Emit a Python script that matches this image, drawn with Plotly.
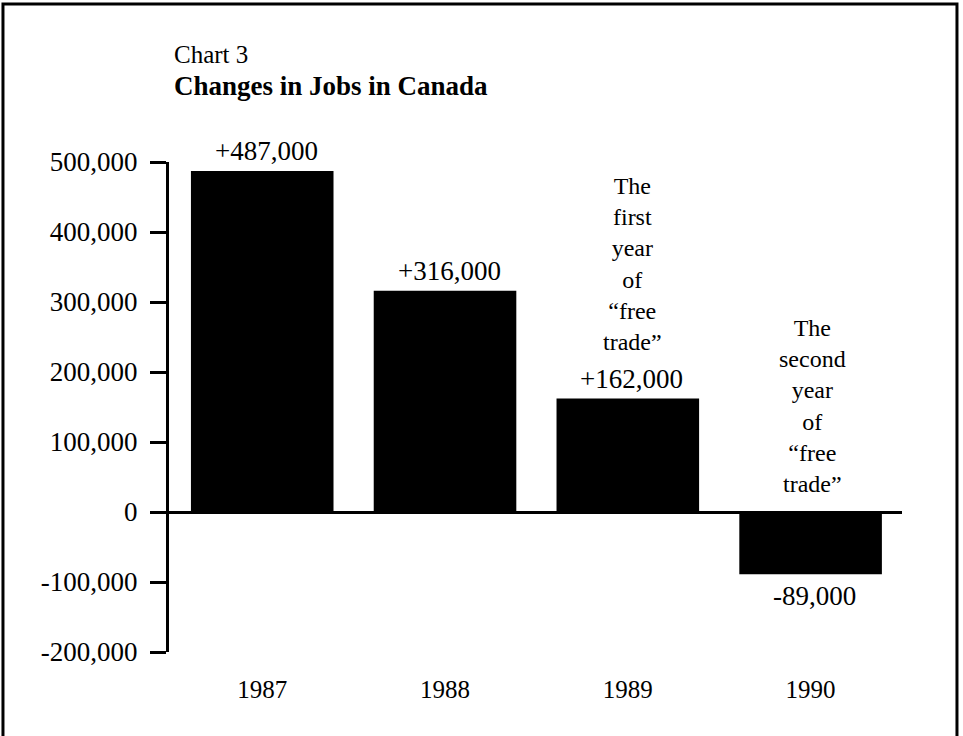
import plotly.graph_objects as go

years = ["1987", "1988", "1989", "1990"]
job_changes = [487000, 316000, 162000, -89000]
value_labels = ["+487,000", "+316,000", "+162,000", "-89,000"]
y_tick_vals = [-200000, -100000, 0, 100000, 200000, 300000, 400000, 500000]
y_tick_text = ["-200,000", "-100,000", "0", "100,000", "200,000", "300,000", "400,000", "500,000"]
note_1989 = "The<br>first<br>year<br>of<br>“free<br>trade”"
note_1990 = "The<br>second<br>year<br>of<br>“free<br>trade”"
chart_label = "Chart 3"
chart_title = "Changes in Jobs in Canada"

FONT = "Liberation Serif, Times New Roman, serif"

fig = go.Figure()
fig.add_trace(go.Bar(
    x=years, y=job_changes, width=0.78,
    marker=dict(color="black", line=dict(width=0)),
    hoverinfo="skip",
))

annotations = []
for i, (v, lab) in enumerate(zip(job_changes, value_labels)):
    annotations.append(dict(
        x=i, y=v, xref="x", yref="y", text=lab, showarrow=False,
        xanchor="center", yanchor="bottom" if v >= 0 else "top",
        yshift=3 if v >= 0 else -5, xshift=4,
        font=dict(family=FONT, size=27, color="black"),
    ))

annotations.append(dict(
    x=2, y=354000, xref="x", yref="y", text=note_1989, showarrow=False,
    xanchor="center", yanchor="middle", xshift=5,
    font=dict(family=FONT, size=24, color="black"),
))
annotations.append(dict(
    x=3, y=151000, xref="x", yref="y", text=note_1990, showarrow=False,
    xanchor="center", yanchor="middle", xshift=2,
    font=dict(family=FONT, size=24, color="black"),
))

annotations.append(dict(
    x=0.0041, y=1.2204, xref="paper", yref="paper", text=chart_label, showarrow=False,
    xanchor="left", yanchor="middle",
    font=dict(family=FONT, size=25, color="black"),
))
annotations.append(dict(
    x=0.0041, y=1.1551, xref="paper", yref="paper", text="<b>" + chart_title + "</b>", showarrow=False,
    xanchor="left", yanchor="middle",
    font=dict(family=FONT, size=27, color="black"),
))

fig.update_layout(
    width=963, height=736,
    margin=dict(l=169, r=61, t=162, b=84, pad=0),
    paper_bgcolor="white", plot_bgcolor="white",
    showlegend=False,
    annotations=annotations,
    shapes=[dict(
        type="rect", xref="paper", yref="paper",
        x0=-0.2265, x1=1.075, y0=-0.2, y1=1.3224,
        line=dict(color="black", width=3), fillcolor="rgba(0,0,0,0)", layer="below",
    )],
)

fig.update_xaxes(
    type="category", range=[-0.51, 3.5], showgrid=False, showline=False,
    zeroline=False, ticks="", ticklabelstandoff=20, automargin=False,
    tickfont=dict(family=FONT, size=25, color="black"),
)
fig.update_yaxes(
    range=[-200000, 500000], tickvals=y_tick_vals, ticktext=y_tick_text,
    showgrid=False, showline=True, linecolor="black", linewidth=3,
    ticks="outside", ticklen=16, tickwidth=3, tickcolor="black",
    ticklabelstandoff=7, automargin=False,
    zeroline=True, zerolinecolor="black", zerolinewidth=3,
    tickfont=dict(family=FONT, size=27, color="black"),
)

fig.write_html(
    "out.html",
    config={"displayModeBar": False, "staticPlot": True},
    post_script="document.body.style.margin='0';",
)
